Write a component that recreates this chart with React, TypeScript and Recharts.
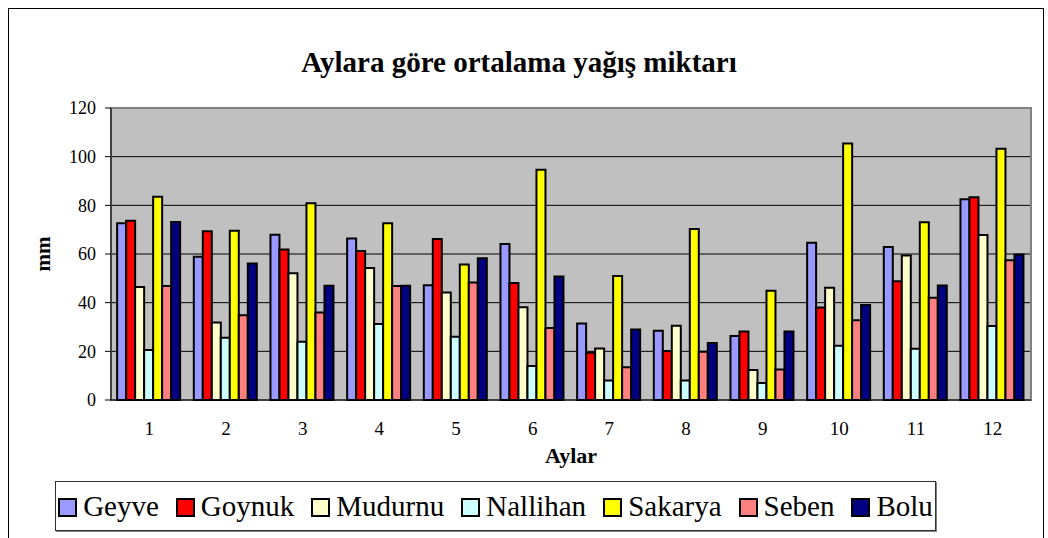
import React from 'react';
import { BarChart, Bar, XAxis, YAxis, CartesianGrid, ReferenceArea } from 'recharts';

const months = ['1', '2', '3', '4', '5', '6', '7', '8', '9', '10', '11', '12'];
const geyve = [72.6, 58.9, 67.9, 66.4, 47.2, 64.1, 31.4, 28.5, 26.3, 64.6, 62.9, 82.5];
const goynuk = [73.7, 69.3, 61.9, 61.2, 66.2, 48.1, 19.4, 20.1, 28.1, 38.0, 48.8, 83.3];
const mudurnu = [46.4, 31.9, 52.1, 54.2, 44.2, 38.1, 21.2, 30.5, 12.3, 46.1, 59.4, 67.8];
const nallihan = [20.5, 25.6, 23.9, 31.2, 26.0, 14.0, 8.0, 8.0, 7.0, 22.3, 21.1, 30.4];
const sakarya = [83.5, 69.6, 80.9, 72.6, 55.7, 94.6, 51.0, 70.3, 44.9, 105.4, 73.0, 103.3];
const seben = [46.8, 34.8, 36.0, 46.8, 48.3, 29.6, 13.5, 19.8, 12.5, 32.8, 42.0, 57.4];
const bolu = [73.2, 56.1, 47.0, 47.0, 58.3, 50.8, 29.0, 23.4, 28.1, 39.0, 47.1, 59.8];
const yTicks = [0, 20, 40, 60, 80, 100, 120];
const edgeTicks = [0, 1, 2, 3, 4, 5, 6, 7, 8, 9, 10, 11, 12];

const series = [
  { key: 'Geyve', values: geyve, color: '#9999ff' },
  { key: 'Goynuk', values: goynuk, color: '#ff0000' },
  { key: 'Mudurnu', values: mudurnu, color: '#ffffcc' },
  { key: 'Nallihan', values: nallihan, color: '#ccffff' },
  { key: 'Sakarya', values: sakarya, color: '#ffff00' },
  { key: 'Seben', values: seben, color: '#ff8080' },
  { key: 'Bolu', values: bolu, color: '#000080' },
];

const data = months.map((m, i) => {
  const row: any = { month: m, pos: i + 0.5 };
  series.forEach((s) => (row[s.key] = s.values[i]));
  return row;
});

const serif = '"Liberation Serif", "Times New Roman", serif';

const YLabel = ({ viewBox }: any) => {
  const cy = viewBox.y + viewBox.height / 2;
  return (
    <text
      x={43}
      y={cy}
      transform={`rotate(-90, 43, ${cy})`}
      textAnchor="middle"
      dominantBaseline="central"
      fontSize={21}
      fontWeight="bold"
      fontFamily={serif}
      fill="#000"
    >
      mm
    </text>
  );
};

const XLabel = ({ viewBox }: any) => (
  <text
    x={viewBox.x + viewBox.width / 2}
    y={463}
    textAnchor="middle"
    fontSize={22}
    fontWeight="bold"
    fontFamily={serif}
    fill="#000"
  >
    Aylar
  </text>
);

const App = () => {
  return (
    <div style={{ position: 'fixed', left: 0, top: 0, width: 1048, height: 538, background: '#fff', fontFamily: serif }}>
      <div style={{ position: 'absolute', left: 8, top: 8, width: 1036, height: 540, border: '1px solid #000', boxSizing: 'border-box' }} />
      <div style={{ position: 'absolute', left: 0, width: 1038, top: 45, textAlign: 'center', fontSize: 29, fontWeight: 'bold', lineHeight: '34px' }}>
        Aylara göre ortalama yağış miktarı
      </div>
      <BarChart
        width={1048}
        height={538}
        data={data}
        barCategoryGap="8%"
        barGap={0}
        margin={{ top: 108, right: 17, left: 41, bottom: 98 }}
        style={{ position: 'absolute', left: 0, top: 0, fontFamily: serif }}
      >
        <CartesianGrid vertical={false} stroke="#000" fill="#c0c0c0" fillOpacity={1} />
        <ReferenceArea y1={0} y2={120} fill="none" stroke="#808080" strokeWidth={2} ifOverflow="visible" />
        <XAxis
          xAxisId="edges"
          type="number"
          dataKey="pos"
          domain={[0, 12]}
          ticks={edgeTicks}
          tick={false}
          axisLine={false}
          stroke="#000"
          tickSize={6}
          height={0}
        />
        <XAxis
          dataKey="month"
          stroke="#000"
          tickLine={false}
          tickSize={6}
          tick={{ fill: '#000', fontSize: 19, fontFamily: serif }}
          fontSize={19}
          fontFamily={serif}
          tickMargin={16}
          height={40}
          label={<XLabel />}
        />
        <YAxis
          domain={[0, 120]}
          ticks={yTicks}
          stroke="#000"
          tickSize={6}
          tickMargin={9}
          width={70}
          fontSize={18}
          fontFamily={serif}
          tick={{ fill: '#000', fontSize: 18, fontFamily: serif }}
          label={<YLabel />}
        />
        {series.map((s) => (
          <Bar key={s.key} dataKey={s.key} fill={s.color} stroke="#000" strokeWidth={2} isAnimationActive={false} />
        ))}
      </BarChart>
      <div
        style={{
          position: 'absolute',
          left: 55,
          top: 481,
          width: 881,
          height: 50,
          border: '1px solid #333',
          boxShadow: '1px 1px 0 #808080',
          boxSizing: 'border-box',
          display: 'flex',
          alignItems: 'center',
          justifyContent: 'center',
          gap: 17,
          fontSize: 29,
        }}
      >
        {series.map((s) => (
          <div key={s.key} style={{ display: 'flex', alignItems: 'center' }}>
            <span
              style={{
                display: 'inline-block',
                width: 15,
                height: 15,
                background: s.color,
                border: '2px solid #000',
                marginRight: 6,
                marginTop: 2,
              }}
            />
            <span style={{ lineHeight: '34px' }}>{s.key}</span>
          </div>
        ))}
      </div>
    </div>
  );
};

export default App;
